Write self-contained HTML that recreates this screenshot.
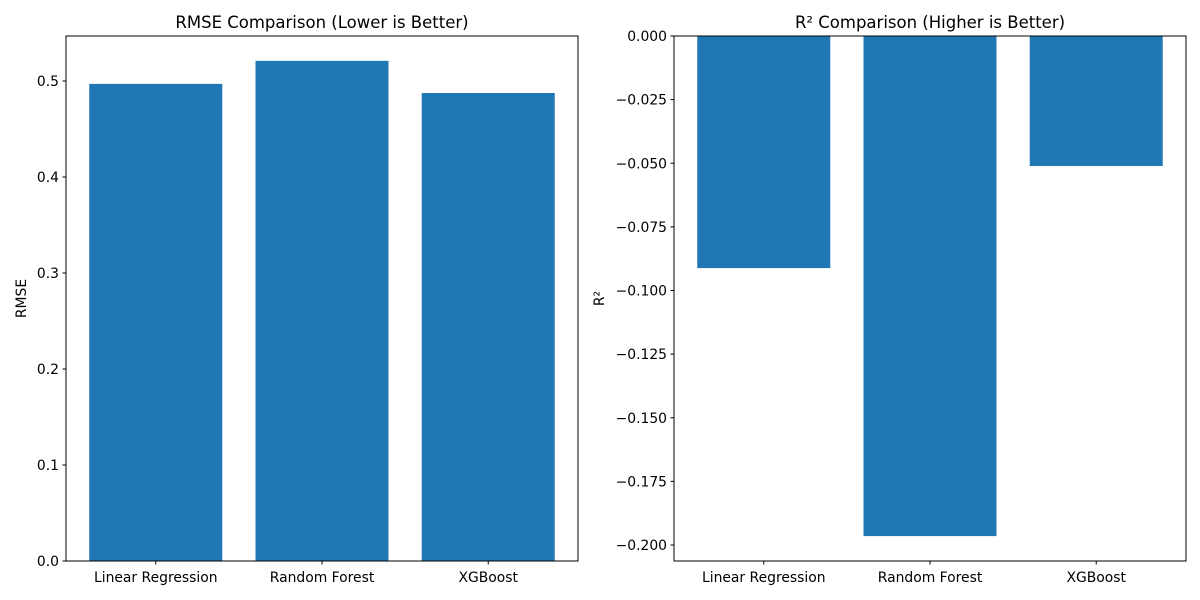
<!DOCTYPE html>
<html><head><meta charset="utf-8"><style>
html,body{margin:0;padding:0;background:#fff;}
svg{display:block;font-family:"DejaVu Sans","Liberation Sans",sans-serif;}
</style></head><body>
<svg id="chart" width="1200" height="600" viewBox="0 0 1200 600"></svg>
<script>
const categories = ["Linear Regression","Random Forest","XGBoost"];
const rmseValues = [0.497, 0.521, 0.4875];
const r2Values = [-0.0912, -0.1965, -0.0511];
const rmseTicks = [0.0,0.1,0.2,0.3,0.4,0.5];
const rmseTickLabels = ["0.0","0.1","0.2","0.3","0.4","0.5"];
const r2Ticks = [0,-0.025,-0.05,-0.075,-0.1,-0.125,-0.15,-0.175,-0.2];
const r2TickLabels = ["0.000","\u22120.025","\u22120.050","\u22120.075","\u22120.100","\u22120.125","\u22120.150","\u22120.175","\u22120.200"];

const NS="http://www.w3.org/2000/svg";
const svg=document.getElementById('chart');
function mk(tag,attrs,parent){const e=document.createElementNS(NS,tag);for(const k in attrs)e.setAttribute(k,attrs[k]);(parent||svg).appendChild(e);return e;}

function panel(opt){
  const g=mk('g',{});
  
  
  const L=opt.left,R=opt.right,T=36,B=561;
  const y=v=>B-(v-opt.ymin)/(opt.ymax-opt.ymin)*(B-T);
  const n=categories.length;
  const span=(n-0.2)*1.1;
  const pad=(span-(n-1))/2;
  const xc=i=>L+(R-L)*((i+pad)/span);
  const bw=(R-L)*0.8/span;
  opt.values.forEach((v,i)=>{
    const y0=y(0),y1=y(v);
    const r=mk('rect',{x:xc(i)-bw/2,y:Math.min(y0,y1),width:bw,height:Math.abs(y1-y0),fill:'#1f77b4'},g);
    
    
  });
  mk('rect',{x:L,y:T,width:R-L,height:B-T,fill:'none',stroke:'#000','stroke-width':1},g);
  opt.ticks.forEach((t,i)=>{
    const yy=y(t);
    mk('line',{x1:L-3.5,x2:L,y1:yy,y2:yy,stroke:'#000'},g);
    const tx=mk('text',{x:L-7,y:yy+5,'text-anchor':'end','font-size':13.9,fill:'#000'},g);
    tx.textContent=opt.tickLabels[i];
    
    
  });
  categories.forEach((c,i)=>{
    const xx=xc(i);
    mk('line',{x1:xx,x2:xx,y1:B,y2:B+3.5,stroke:'#000'},g);
    const tx=mk('text',{x:xx,y:B+21,'text-anchor':'middle','font-size':13.9,fill:'#000'},g);
    tx.textContent=c;
    
    
  });
  const ti=mk('text',{x:(L+R)/2,y:28,'text-anchor':'middle','font-size':16.5,fill:'#000'},g);
  ti.textContent=opt.title;
  
  
  const yl=mk('text',{x:0,y:0,'text-anchor':'middle','font-size':13.9,fill:'#000',transform:`translate(${opt.ylabelX},${(T+B)/2}) rotate(-90)`},g);
  yl.textContent=opt.ylabel;
  
  
}
panel({name:'rmse-panel',left:66,right:578,ymin:0,ymax:525/960,values:rmseValues,ticks:rmseTicks,tickLabels:rmseTickLabels,title:'RMSE Comparison (Lower is Better)',ylabel:'RMSE',ylabelX:26});
panel({name:'r2-panel',left:674,right:1186,ymin:-525/2545,ymax:0,values:r2Values,ticks:r2Ticks,tickLabels:r2TickLabels,title:'R\u00b2 Comparison (Higher is Better)',ylabel:'R\u00b2',ylabelX:604});
</script>
</body></html>
